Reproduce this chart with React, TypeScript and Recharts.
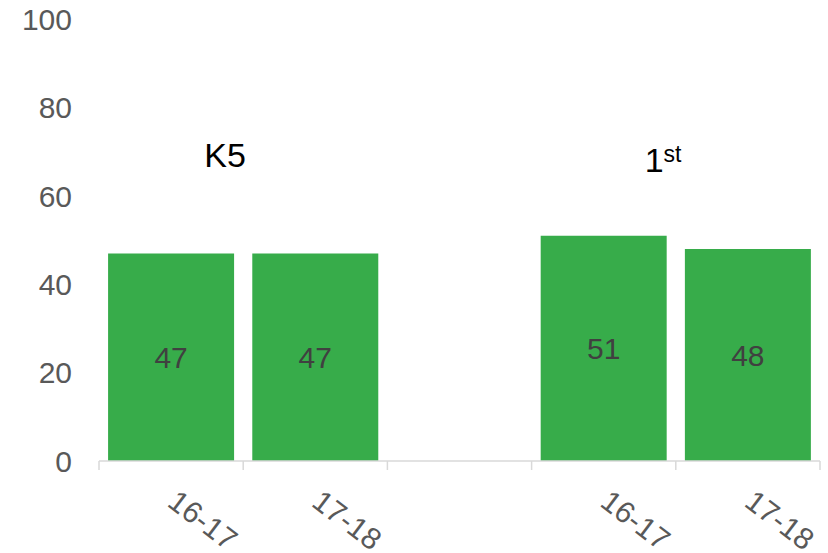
import React from 'react';
import { BarChart, Bar, XAxis, YAxis, LabelList, ReferenceDot } from 'recharts';

// period under each bar; the empty slot separates the two grades
const categories = ['16-17', '17-18', '', '16-17', '17-18'];
const scores = [47, 47, null, 51, 48];
const yTicks = [0, 20, 40, 60, 80, 100];

const data = categories.map((label, i) => ({ id: `c${i}`, label, score: scores[i] }));

const W = 828;
const H = 553;
const MARGIN = { top: 19.5, right: 8, left: 0, bottom: 0 };
const Y_AXIS_W = 99;
const BAND = (W - MARGIN.left - MARGIN.right - Y_AXIS_W) / categories.length;
const FONT = '"Liberation Sans", Arial, sans-serif';
const AXIS_GREY = '#d9d9d9';

function PeriodTick(props: any) {
    const { x, y, index } = props;
    const text = categories[index];
    const left = x - BAND / 2;
    return (
        <g>
            <line x1={left} x2={left} y1={y} y2={y + 9} stroke={AXIS_GREY} strokeWidth={1.5} />
            {index === categories.length - 1 && (
                <line x1={x + BAND / 2} x2={x + BAND / 2} y1={y} y2={y + 9} stroke={AXIS_GREY} strokeWidth={1.5} />
            )}
            {text && (
                <text
                    transform={`translate(${x + 8},${y + 27}) rotate(37)`}
                    x={0}
                    y={0}
                    dy="0.72em"
                    fontSize={30}
                    fill="#595959"
                    fontFamily={FONT}
                >
                    {text}
                </text>
            )}
        </g>
    );
}

function GroupTitle(props: any) {
    const { viewBox, dx, dy, main, sup, anchor } = props;
    const cx = viewBox.x + viewBox.width / 2;
    const cy = viewBox.y + viewBox.height / 2;
    return (
        <text x={cx + dx} y={cy + dy} textAnchor={anchor} fontSize={34} fill="#000" fontFamily={FONT}>
            {main}
            {sup && (
                <tspan dy={-10} fontSize={23}>
                    {sup}
                </tspan>
            )}
        </text>
    );
}

export default function App() {
    return (
        <div style={{ position: 'absolute', left: 0, top: 0, width: W, height: H, background: '#fff' }}>
            <BarChart
                width={W}
                height={H}
                data={data}
                margin={MARGIN}
                barCategoryGap="6.3%"
                style={{ fontFamily: FONT }}
            >
                <XAxis
                    dataKey="id"
                    interval={0}
                    height={H - 461}
                    tickLine={false}
                    tickSize={0}
                    tickMargin={0}
                    axisLine={{ stroke: AXIS_GREY, strokeWidth: 1.5 }}
                    tick={<PeriodTick />}
                />
                <YAxis
                    width={Y_AXIS_W}
                    domain={[0, 100]}
                    ticks={yTicks}
                    axisLine={false}
                    tickLine={false}
                    tickMargin={21}
                    tick={{ fontSize: 30, fill: '#595959' }}
                />
                <Bar dataKey="score" fill="#37ac4a" isAnimationActive={false}>
                    <LabelList dataKey="score" position="center" fill="#404040" fontSize={30} />
                </Bar>
                <ReferenceDot
                    x="c0"
                    y={67}
                    r={1}
                    fill="none"
                    stroke="none"
                    label={<GroupTitle dx={54} dy={2} main="K5" anchor="middle" />}
                />
                <ReferenceDot
                    x="c3"
                    y={67}
                    r={1}
                    fill="none"
                    stroke="none"
                    label={<GroupTitle dx={41} dy={7} main="1" sup="st" anchor="start" />}
                />
            </BarChart>
        </div>
    );
}
